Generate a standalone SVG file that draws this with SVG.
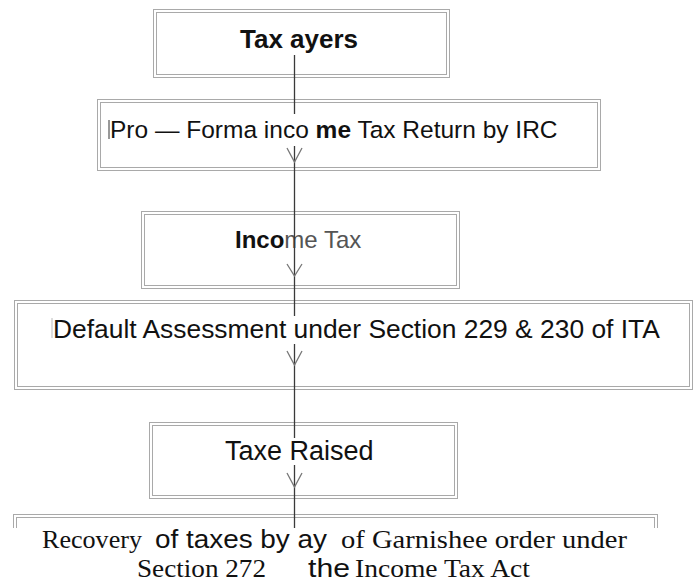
<svg xmlns="http://www.w3.org/2000/svg" width="695" height="584" viewBox="0 0 695 584">
<style>
.b{fill:none;stroke:#a9a9a9;stroke-width:1}
.s{font-family:"Liberation Sans",Arial,sans-serif;fill:#111}
.r{font-family:"Liberation Serif","Times New Roman",serif;fill:#111}
.ln{stroke:#3a3a3a;stroke-width:1.3;fill:none}
.ar{stroke:#777;stroke-width:1.3;fill:none}
.bg{fill:#fff}
</style>
<rect width="695" height="584" fill="#fff"/>
<g id="node-taxpayers">
<rect class="b" x="153.5" y="9.5" width="296" height="68"/>
<rect class="b" x="156.5" y="12.5" width="290" height="62"/>
<text class="s" x="299" y="48" font-size="26" font-weight="bold" text-anchor="middle">Tax ayers</text>
</g>
<g id="node-proforma">
<rect class="b" x="97.5" y="99.5" width="503" height="71"/>
<rect class="b" x="100.5" y="102.5" width="497" height="65"/>
</g>
<g id="node-incometax">
<rect class="b" x="141.5" y="211.5" width="318" height="77"/>
<rect class="b" x="144.5" y="214.5" width="312" height="71"/>
<text class="s" x="235" y="248" font-size="24"><tspan font-weight="bold">Inco</tspan><tspan fill="#555">me Tax</tspan></text>
</g>
<g id="node-default">
<rect class="b" x="14.5" y="300.5" width="678" height="89"/>
<rect class="b" x="17.5" y="303.5" width="672" height="83"/>
</g>
<g id="node-raised">
<rect class="b" x="149.5" y="422.5" width="308" height="76"/>
<rect class="b" x="152.5" y="425.5" width="302" height="70"/>
</g>
<g id="node-recovery">
<rect class="b" x="13.5" y="514.5" width="644" height="80"/>
<rect class="b" x="16.5" y="517.5" width="638" height="74"/>
</g>
<g id="connectors">
<line class="ln" x1="294.5" y1="55" x2="294.5" y2="529"/>
<polyline class="ar" points="287,148 294.5,162 302,148"/>
<polyline class="ar" points="287,264 294.5,276 302,264"/>
<polyline class="ar" points="287,351 294.5,365 302,351"/>
<polyline class="ar" points="287,473 294.5,487 302,473"/>
</g>
<g id="labels">
<rect class="bg" x="106" y="114" width="460" height="32"/>
<line x1="109" y1="120" x2="109" y2="139" stroke="#333" stroke-width="1"/>
<text class="s" x="110" y="138" font-size="24.5">Pro — Forma inco <tspan font-weight="bold">me</tspan> Tax Return by IRC</text>
<rect class="bg" x="50" y="316" width="616" height="28"/>
<line x1="52" y1="318" x2="52" y2="338" stroke="#bbb" stroke-width="1"/>
<text class="s" x="53" y="338" font-size="26.4">Default Assessment under Section 229 &amp; 230 of ITA</text>
<rect class="bg" x="222" y="438" width="158" height="27"/>
<text class="s" x="225" y="460" font-size="27">Taxe Raised</text>
<rect class="bg" x="0" y="528" width="695" height="56"/>
<text class="r" x="42" y="548" font-size="26" textLength="100" lengthAdjust="spacingAndGlyphs">Recovery</text>
<text class="s" x="155" y="548" font-size="25" textLength="172" lengthAdjust="spacingAndGlyphs">of taxes by ay</text>
<text class="r" x="341" y="548" font-size="26" textLength="286" lengthAdjust="spacingAndGlyphs">of Garnishee order under</text>
<text class="r" x="137" y="577" font-size="26" textLength="129" lengthAdjust="spacingAndGlyphs">Section 272</text>
<text class="s" x="308" y="577" font-size="25" textLength="42" lengthAdjust="spacingAndGlyphs">the</text>
<text class="r" x="355" y="577" font-size="26" textLength="175" lengthAdjust="spacingAndGlyphs">Income Tax Act</text>
</g>
</svg>
